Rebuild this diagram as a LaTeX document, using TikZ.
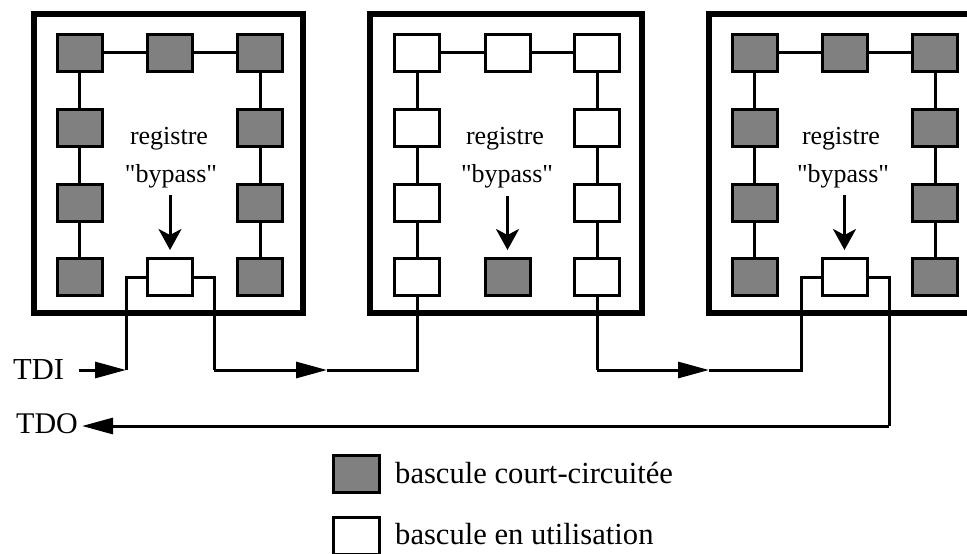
\documentclass[tikz,border=0pt]{standalone}
\usepackage{fontspec}
\setmainfont[Ligatures=TeXOff]{Liberation Serif}
\usetikzlibrary{arrows.meta}
\definecolor{grisbascule}{gray}{0.5}
\tikzset{
    bloc/.style={draw,line width=6pt,inner sep=0pt,minimum height=299pt},
    vide/.style={draw,fill=white,line width=3pt,inner sep=0pt,minimum width=45pt,minimum height=37pt},
    pleine/.style={vide,fill=grisbascule},
    lien/.style={line width=3pt,line cap=square,miter limit=10},
    fleche/.style={lien,line cap=butt,-{Triangle[length=31pt,width=16pt]}},
    descente/.style={line width=3pt,-{Stealth[length=21pt,width=23pt,inset=6pt]}},
    texte/.style={anchor=base,inner sep=0pt,font=\fontsize{26}{26}\selectfont},
    legende/.style={anchor=base west,inner sep=0pt,font=\fontsize{30.6}{30.6}\selectfont}
}
\begin{document}
\begin{tikzpicture}[x=1pt,y=-1pt]
    \clip[use as bounding box] (0,0) rectangle (967,554);
    %% Blocs
    \node[bloc,minimum width=269pt] (bloc1) at (168.5,163.5) {};
    \node[bloc,minimum width=272pt] (bloc2) at (506,163.5) {};
    \node[bloc,minimum width=276pt] (bloc3) at (847,163.5) {};
    %% Bascules bloc 1
    \node[pleine] (a1) at (79.5,52.5) {};
    \node[pleine] (a2) at (170,52.5) {};
    \node[pleine] (a3) at (260,52.5) {};
    \node[pleine] (a4) at (79.5,127.5) {};
    \node[pleine] (a5) at (260,127.5) {};
    \node[pleine] (a6) at (79.5,202.5) {};
    \node[pleine] (a7) at (260,202.5) {};
    \node[pleine] (a8) at (79.5,277) {};
    \node[vide] (a9) at (170,277) {};
    \node[pleine] (a10) at (260,277) {};
    %% Bascules bloc 2
    \node[vide] (b1) at (417,52.5) {};
    \node[vide] (b2) at (507.5,52.5) {};
    \node[vide] (b3) at (597,52.5) {};
    \node[vide] (b4) at (417,127.5) {};
    \node[vide] (b5) at (597,127.5) {};
    \node[vide] (b6) at (417,202.5) {};
    \node[vide] (b7) at (597,202.5) {};
    \node[vide] (b8) at (417,277) {};
    \node[pleine] (b9) at (507.5,277) {};
    \node[vide] (b10) at (597,277) {};
    %% Bascules bloc 3
    \node[pleine] (c1) at (754.5,52.5) {};
    \node[pleine] (c2) at (844.5,52.5) {};
    \node[pleine] (c3) at (935,52.5) {};
    \node[pleine] (c4) at (754.5,127.5) {};
    \node[pleine] (c5) at (935,127.5) {};
    \node[pleine] (c6) at (754.5,202.5) {};
    \node[pleine] (c7) at (935,202.5) {};
    \node[pleine] (c8) at (754.5,277) {};
    \node[vide] (c9) at (844.5,277) {};
    \node[pleine] (c10) at (935,277) {};
    %% Liens bloc 1
    \draw[lien] (a1) -- (a2);
    \draw[lien] (a2) -- (a3);
    \draw[lien] (a1) -- (a4);
    \draw[lien] (a4) -- (a6);
    \draw[lien] (a6) -- (a8);
    \draw[lien] (a3) -- (a5);
    \draw[lien] (a5) -- (a7);
    \draw[lien] (a7) -- (a10);
    %% Liens bloc 2
    \draw[lien] (b1) -- (b2);
    \draw[lien] (b2) -- (b3);
    \draw[lien] (b1) -- (b4);
    \draw[lien] (b4) -- (b6);
    \draw[lien] (b6) -- (b8);
    \draw[lien] (b3) -- (b5);
    \draw[lien] (b5) -- (b7);
    \draw[lien] (b7) -- (b10);
    %% Liens bloc 3
    \draw[lien] (c1) -- (c2);
    \draw[lien] (c2) -- (c3);
    \draw[lien] (c1) -- (c4);
    \draw[lien] (c4) -- (c6);
    \draw[lien] (c6) -- (c8);
    \draw[lien] (c3) -- (c5);
    \draw[lien] (c5) -- (c7);
    \draw[lien] (c7) -- (c10);
    %% Registre bypass
    \node[texte] (reg1) at (169,144) {registre};
    \node[texte] (byp1) at (171,182) {"bypass"};
    \node[texte] (reg2) at (505,144) {registre};
    \node[texte] (byp2) at (507,182) {"bypass"};
    \node[texte] (reg3) at (841,144) {registre};
    \node[texte] (byp3) at (843,182) {"bypass"};
    \coordinate (h1) at (170,195);
    \coordinate (h2) at (507.5,196);
    \coordinate (h3) at (844.5,195);
    \draw[descente] (h1) -- ([yshift=7pt]a9.north);
    \draw[descente] (h2) -- ([yshift=7pt]b9.north);
    \draw[descente] (h3) -- ([yshift=7pt]c9.north);
    %% Chaine TDI vers TDO
    \node[anchor=base west,inner sep=0pt,font=\fontsize{30.5}{30.5}\selectfont] (tdi) at (13,379) {TDI};
    \node[anchor=base west,inner sep=0pt,font=\fontsize{30}{30}\selectfont] (tdo) at (16,433) {TDO};
    \coordinate (e1) at (126,277);
    \coordinate (e2) at (126,370);
    \coordinate (s1) at (214,277);
    \coordinate (s2) at (214,370);
    \coordinate (m1) at (327,370);
    \coordinate (m2) at (417,370);
    \coordinate (s3) at (597,370);
    \coordinate (m3) at (709,370);
    \coordinate (e3) at (801,370);
    \coordinate (e4) at (801,277);
    \coordinate (s4) at (889,277);
    \coordinate (s5) at (889,426);
    \coordinate (d1) at (79,370);
    \coordinate (d2) at (82,426);
    \draw[fleche] (d1) -- (e2);
    \draw[lien] (a9) -- (e1) -- (e2);
    \draw[lien] (a9) -- (s1) -- (s2);
    \draw[fleche] (s2) -- (m1);
    \draw[lien] (m1) -- (m2) -- (b8);
    \draw[lien] (b10) -- (s3);
    \draw[fleche] (s3) -- (m3);
    \draw[lien] (m3) -- (e3) -- (e4) -- (c9);
    \draw[lien] (c9) -- (s4) -- (s5);
    \draw[fleche] (s5) -- (d2);
    %% Legende
    \node[pleine,minimum width=46pt] (lg1) at (356.5,474) {};
    \node[vide,minimum width=46pt] (lg2) at (356.5,536) {};
    \node[legende] (lt1) at (395,483) {bascule court-circuitée};
    \node[legende] (lt2) at (395,544) {bascule en utilisation};
\end{tikzpicture}
\end{document}
